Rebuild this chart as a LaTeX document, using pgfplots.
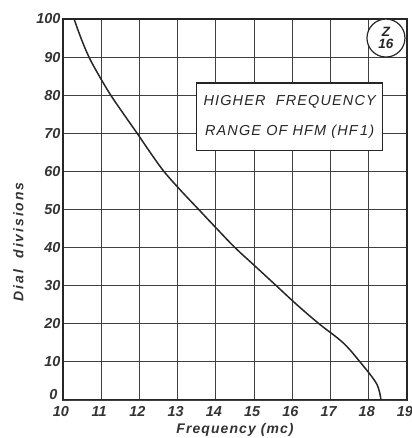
\documentclass[border=0pt]{standalone}
\usepackage{pgfplots}
\pgfplotsset{compat=1.18}
\usepackage{fontspec}
\setmainfont{Liberation Sans}
\newfontfamily\hand[LetterSpace=8]{Liberation Sans}
\newfontfamily\handwide[LetterSpace=14]{Liberation Sans}
\begin{document}
\begin{tikzpicture}
\useasboundingbox (-63bp,-38bp) rectangle (349bp,400bp);
\begin{axis}[
  scale only axis,
  width=344bp, height=381bp,
  xmin=10, xmax=19, ymin=0, ymax=100,
  xtick={10,...,19}, ytick={10,20,...,100},
  extra y ticks={0},
  extra y tick style={yticklabel style={yshift=5bp, xshift=-3bp}},
  grid=major,
  major grid style={black!75, line width=1pt},
  axis line style={black!85, line width=1.4pt},
  tick style={draw=none},
  /pgf/number format/assume math mode=true,
  ticklabel style={font=\fontsize{14.5}{16}\selectfont\itshape\bfseries, text=black!80},
  xticklabel style={xshift=-2bp, yshift=-3bp},
  yticklabel style={xshift=1bp},
  xlabel={\hand Frequency (mc)},
  ylabel={\handwide Dial\ \ divisions},
  label style={font=\fontsize{14}{16}\selectfont\itshape\bfseries, text=black!80},
  ylabel style={at={(ticklabel cs:0.415)}, yshift=6bp},
  clip=false,
]
\addplot[black!85, line width=1.5pt, smooth, tension=0.6] coordinates {
(18.32,0) (18.27,2.5) (18.16,5) (17.77,10) (17.33,15) (16.70,20)
(16.12,25) (15.58,30) (15.04,35) (14.50,40) (14.02,45) (13.55,50)
(13.08,55) (12.64,60) (12.28,65) (11.94,70) (11.59,75) (11.25,80)
(10.95,85) (10.68,90) (10.47,95) (10.29,100)
};
\draw[black!85, line width=1.1pt, fill=white] (axis cs:13.5,65.6) rectangle (axis cs:18.35,83.2);
\node[font=\fontsize{14.5}{16}\selectfont\hand\itshape, text=black!85] at (axis cs:15.93,78.3) {HIGHER\ \ FREQUENCY};
\node[font=\fontsize{14.5}{16}\selectfont\hand\itshape, text=black!85] at (axis cs:15.93,70.3) {RANGE OF HFM (HF\,1)};
\draw[black!85, line width=1.2pt, fill=white] (axis cs:18.45,95.0) circle (19bp);
\node[font=\fontsize{13.5}{12}\selectfont\itshape\bfseries, text=black!85, align=center, inner sep=0pt] at (axis cs:18.45,95.0) {Z\\16};
\end{axis}
\end{tikzpicture}
\end{document}
